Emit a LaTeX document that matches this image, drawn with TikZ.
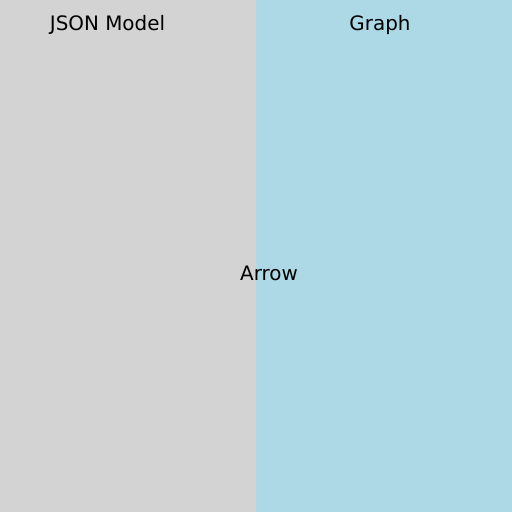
\documentclass[tikz,border=0pt]{standalone}
\usepackage{fontspec}
\setmainfont{DejaVu Sans}
\definecolor{lgray}{HTML}{D3D3D3}
\definecolor{lblue}{HTML}{ADD8E6}
\tikzset{lbl/.style={anchor=base,inner sep=0pt,font=\fontsize{19.9bp}{24bp}\selectfont}}
\begin{document}
\begin{tikzpicture}[x=1bp,y=1bp]
\useasboundingbox (0,0) rectangle (512,512);
\fill[lgray] (0,0) rectangle (256,512);
\fill[lblue] (256,0) rectangle (512,512);
\node[lbl] (json) at (107.5,481) {JSON Model};
\node[lbl] (graph) at (380,481) {Graph};
\node[lbl] (arrow) at (269,231) {Arrow};
\end{tikzpicture}
\end{document}
